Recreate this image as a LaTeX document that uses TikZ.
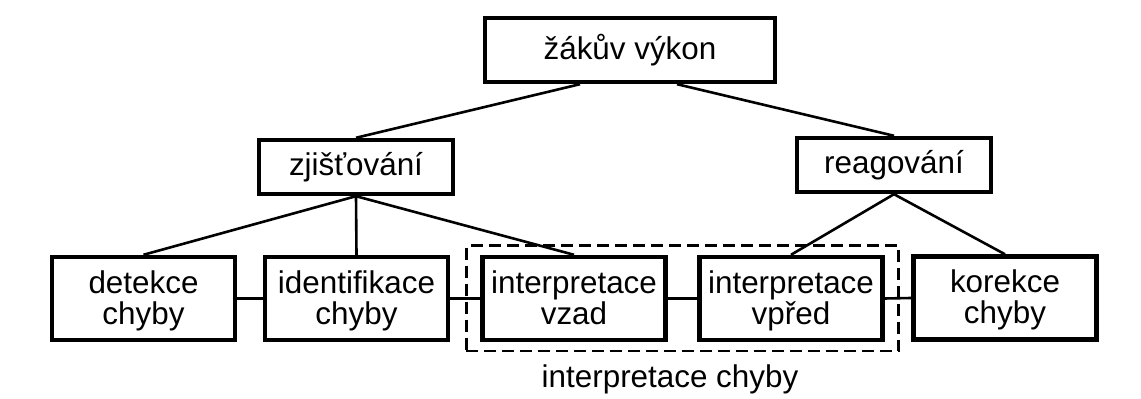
\documentclass[tikz,border=0pt]{standalone}
\usepackage{fontspec}
\setmainfont{Liberation Sans}
\usetikzlibrary{fit}
% even line heights for every text line, accented or not
\newcommand\evenline{\rule[-3.5pt]{0pt}{15.3pt}}
\newcommand\firstline{\rule[-3.5pt]{0pt}{17.5pt}}
\begin{document}
\begin{tikzpicture}[x=0.5pt,y=-0.5pt,
  txt/.style={font=\fontsize{15.7}{15.5}\selectfont},
  box/.style={txt, draw, line width=2.2pt, align=center, inner sep=0pt},
  topbox/.style={box, minimum width=145pt, minimum height=32pt},
  midbox/.style={box, minimum width=97pt, minimum height=27pt},
  lowbox/.style={box, minimum width=91.5pt, minimum height=41.5pt},
  link/.style={line width=1.3pt},
  group/.style={draw, line width=1.3pt, dash pattern=on 6pt off 3pt,
    inner xsep=7pt, inner ysep=4.5pt}]
  % page area
  \fill[white] (0,0) rectangle (1141,399);
  \useasboundingbox (0,0) rectangle (1141,399);

  % hierarchy
  \node[topbox] (perf) at (630,50) {\evenline žákův výkon};
  \node[midbox] (detect) at (356,167) {\evenline zjišťování};
  \node[midbox] (react) at (894,165) {\evenline reagování};

  % process steps
  \node[lowbox] (det) at (143.5,298.5) {\firstline detekce\\\evenline chyby};
  \node[lowbox] (ident) at (356.5,298.5) {\firstline identifikace\\\evenline chyby};
  \node[lowbox] (back) at (574,298.5) {\firstline interpretace\\\evenline vzad};
  \node[lowbox] (fwd) at (791,298.5) {\firstline interpretace\\\evenline vpřed};
  \node[lowbox] (corr) at (1005,298) {\firstline korekce\\\evenline chyby};

  % grouping of the two interpretation steps
  \node[group, fit=(back)(fwd)] (interp) {};
  \node[txt, anchor=base] (interplabel) at (670,388) {interpretace chyby};

  % tree connectors
  \draw[link] ([xshift=-25pt]perf.south) -- (detect.north);
  \draw[link] ([xshift=23.5pt]perf.south) -- (react.north);
  \draw[link] (detect.south) -- (det.north);
  \draw[link] (detect.south) -- (ident.north);
  \draw[link] (detect.south) -- (back.north);
  \draw[link] (react.south) -- (fwd.north);
  \draw[link] (react.south) -- (corr.north);

  % sequence connectors
  \draw[link] (det.east) -- (ident.west);
  \draw[link] (ident.east) -- (back.west);
  \draw[link] (back.east) -- (fwd.west);
  \draw[link] (fwd.east) -- (corr.west);
\end{tikzpicture}
\end{document}
